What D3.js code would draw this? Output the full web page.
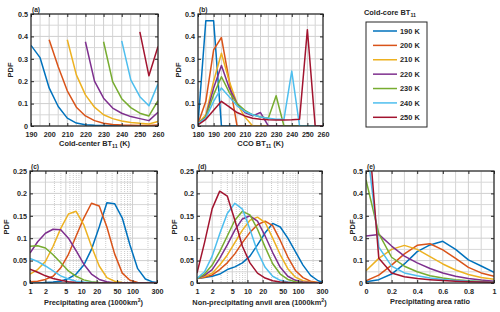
<!DOCTYPE html>
<html lang="en">
<head>
<meta charset="UTF-8">
<title>Cold-core PDFs</title>
<script src="https://d3js.org/d3.v7.min.js"></script>
<style>
  body { margin: 0; background: #fff; }
  svg { display: block; font-family: "Liberation Sans", Arial, sans-serif; font-weight: bold; }
  .tick text { font-size: 7.2px; font-weight: bold; fill: #262626; }
  .tick line { stroke: #262626; }
  .domain { display: none; }
  .lbl { font-size: 7.4px; fill: #262626; }
</style>
</head>
<body>
<svg width="500" height="312"></svg>
<script>
// legend / series
const seriesNames = ["190 K", "200 K", "210 K", "220 K", "230 K", "240 K", "250 K"];
const colors = ["#0072BD", "#D95319", "#EDB120", "#7E2F8E", "#77AC30", "#4DBEEE", "#A2142F"];

// (a) cold-center BT11 (K)
const btA = [190, 195, 200, 205, 210, 215, 220, 225, 230, 235, 240, 245, 250, 255, 260];
const pdfA = [
  [0.36, 0.305, 0.17, 0.087, 0.035, 0.013, 0.006, 0.003, 0.002, 0.001, 0.001, 0.0005, 0, 0, 0],
  [null, null, 0.385, 0.265, 0.157, 0.084, 0.045, 0.024, 0.012, 0.007, 0.004, 0.003, 0.002, 0.002, 0.004],
  [null, null, null, null, 0.385, 0.228, 0.139, 0.084, 0.05, 0.033, 0.022, 0.016, 0.012, 0.009, 0.02],
  [null, null, null, null, null, null, 0.376, 0.2, 0.124, 0.08, 0.057, 0.042, 0.033, 0.024, 0.061],
  [null, null, null, null, null, null, null, null, 0.376, 0.198, 0.122, 0.082, 0.057, 0.045, 0.113],
  [null, null, null, null, null, null, null, null, null, null, 0.38, 0.206, 0.131, 0.09, 0.188],
  [null, null, null, null, null, null, null, null, null, null, null, null, 0.42, 0.224, 0.355]
];

// (b) CCO BT11 (K)
const btB = [180, 185, 190, 195, 200, 205, 210, 215, 220, 225, 230, 235, 240, 245, 250, 255, 260];
const pdfB = [
  [0.01, 0.47, 0.47, 0, 0, 0, 0, 0, 0, 0, 0, 0, 0, 0, 0, 0, 0],
  [0.01, 0.11, 0.34, 0.395, 0.2, 0, 0, 0, 0, 0, 0, 0, 0, 0, 0, 0, 0],
  [0.01, 0.05, 0.2, 0.325, 0.2, 0.1, 0.04, 0, 0, 0, 0, 0, 0, 0, 0, 0, 0],
  [0.01, 0.04, 0.17, 0.27, 0.17, 0.1, 0.06, 0.045, 0.06, 0, 0, 0, 0, 0, 0, 0, 0],
  [0.01, 0.04, 0.14, 0.22, 0.15, 0.1, 0.07, 0.05, 0.04, 0.035, 0.135, 0, 0, 0, 0, 0, 0],
  [0.01, 0.035, 0.11, 0.17, 0.13, 0.09, 0.065, 0.05, 0.04, 0.035, 0.03, 0.03, 0.245, 0, 0, 0, 0],
  [0.005, 0.03, 0.07, 0.11, 0.085, 0.06, 0.045, 0.035, 0.03, 0.028, 0.027, 0.027, 0.028, 0.03, 0.43, 0, 0]
];

// (c), (d) area bins (1000 km2)
const areaBins = [1, 1.41, 2, 2.82, 3.98, 5.62, 7.94, 11.2, 15.8, 22.4, 31.6, 44.7, 63.1, 89.1, 126, 178, 251, 355];
const pdfC = [
  [0, 0, 0.001, 0.002, 0.004, 0.01, 0.02, 0.04, 0.075, 0.125, 0.179, 0.177, 0.145, 0.085, 0.032, 0.009, 0.002, 0],
  [0.003, 0.004, 0.008, 0.015, 0.034, 0.064, 0.105, 0.145, 0.178, 0.172, 0.125, 0.065, 0.022, 0.006, 0.001, 0, 0, 0],
  [0.02, 0.03, 0.048, 0.082, 0.122, 0.154, 0.16, 0.13, 0.082, 0.038, 0.012, 0.004, 0.001, 0, 0, 0, 0, 0],
  [0.067, 0.092, 0.111, 0.12, 0.119, 0.1, 0.072, 0.042, 0.02, 0.008, 0.003, 0, 0, 0, 0, 0, 0, 0],
  [0.082, 0.083, 0.078, 0.063, 0.045, 0.027, 0.015, 0.007, 0.003, 0.001, 0, 0, 0, 0, 0, 0, 0, 0],
  [0.055, 0.048, 0.038, 0.027, 0.016, 0.009, 0.004, 0.002, 0.001, 0, 0, 0, 0, 0, 0, 0, 0, 0],
  [0.031, 0.024, 0.016, 0.01, 0.006, 0.003, 0.001, 0, 0, 0, 0, 0, 0, 0, 0, 0, 0, 0]
];
const pdfD = [
  [0.01, 0.012, 0.015, 0.02, 0.03, 0.036, 0.045, 0.06, 0.085, 0.112, 0.133, 0.125, 0.1, 0.07, 0.04, 0.017, 0.005, 0],
  [0.01, 0.013, 0.018, 0.03, 0.045, 0.065, 0.09, 0.113, 0.13, 0.138, 0.128, 0.095, 0.058, 0.028, 0.012, 0.004, 0.001, 0],
  [0.01, 0.015, 0.022, 0.04, 0.062, 0.09, 0.118, 0.14, 0.147, 0.135, 0.1, 0.063, 0.032, 0.013, 0.005, 0.002, 0, 0],
  [0.01, 0.017, 0.03, 0.055, 0.085, 0.118, 0.143, 0.15, 0.138, 0.105, 0.068, 0.035, 0.015, 0.006, 0.002, 0.001, 0, 0],
  [0.01, 0.02, 0.04, 0.07, 0.105, 0.14, 0.16, 0.152, 0.12, 0.08, 0.043, 0.02, 0.008, 0.003, 0.001, 0, 0, 0],
  [0.01, 0.025, 0.06, 0.11, 0.155, 0.178, 0.165, 0.12, 0.07, 0.035, 0.015, 0.006, 0.002, 0, 0, 0, 0, 0],
  [0.022, 0.09, 0.166, 0.205, 0.194, 0.14, 0.082, 0.045, 0.022, 0.011, 0.005, 0.002, 0.001, 0, 0, 0, 0, 0]
];

// (e) precipitating area ratio
const ratioBins = [0, 0.1, 0.2, 0.3, 0.4, 0.5, 0.6, 0.7, 0.8, 0.9, 1.0];
const pdfE = [
  [0.005, 0.015, 0.04, 0.085, 0.14, 0.17, 0.186, 0.15, 0.103, 0.076, 0.048],
  [0.01, 0.035, 0.08, 0.13, 0.168, 0.175, 0.148, 0.11, 0.07, 0.045, 0.03],
  [0.055, 0.11, 0.15, 0.168, 0.15, 0.118, 0.085, 0.058, 0.038, 0.025, 0.017],
  [0.21, 0.217, 0.165, 0.12, 0.09, 0.065, 0.045, 0.03, 0.02, 0.013, 0.008],
  [0.46, 0.22, 0.115, 0.075, 0.05, 0.032, 0.022, 0.015, 0.01, 0.007, 0.005],
  [0.646, 0.16, 0.075, 0.045, 0.032, 0.022, 0.016, 0.011, 0.008, 0.006, 0.004],
  [0.82, 0.11, 0.045, 0.028, 0.02, 0.015, 0.011, 0.008, 0.006, 0.004, 0.003]
];

const logTicks = [1, 2, 5, 10, 20, 50, 100, 300];
const logMinor = [3, 4, 6, 7, 8, 9, 30, 40, 60, 70, 80, 90, 200];

const svg = d3.select("svg");
const fmt = d3.format("~g");

function panel(cfg) {
  const x = cfg.x.range([cfg.left, cfg.right]);
  const y = d3.scaleLinear().domain([0, cfg.yMax]).range([cfg.bottom, cfg.top]);
  const g = svg.append("g");
  const w = cfg.right - cfg.left, h = cfg.bottom - cfg.top;

  // grid
  const grid = g.append("g");
  grid.selectAll(".gxm").data(cfg.xMinor || []).join("line")
    .attr("x1", d => x(d)).attr("x2", d => x(d)).attr("y1", cfg.top).attr("y2", cfg.bottom)
    .attr("stroke", cfg.log ? "#aaa" : "#d4d4d4").attr("stroke-width", cfg.log ? 0.6 : 1)
    .attr("stroke-dasharray", cfg.log ? "1,1" : null);
  grid.selectAll(".gym").data(cfg.yMinor).join("line")
    .attr("x1", cfg.left).attr("x2", cfg.right).attr("y1", d => y(d)).attr("y2", d => y(d))
    .attr("stroke", "#d8d8d8").attr("stroke-width", 1);
  grid.selectAll(".gx").data(cfg.xTicks).join("line")
    .attr("x1", d => x(d)).attr("x2", d => x(d)).attr("y1", cfg.top).attr("y2", cfg.bottom)
    .attr("stroke", "#cfcfcf").attr("stroke-width", 1);
  grid.selectAll(".gy").data(cfg.yTicks).join("line")
    .attr("x1", cfg.left).attr("x2", cfg.right).attr("y1", d => y(d)).attr("y2", d => y(d))
    .attr("stroke", "#cfcfcf").attr("stroke-width", 1);

  // series
  const clipId = "clip-" + cfg.id;
  g.append("clipPath").attr("id", clipId).append("rect")
    .attr("x", cfg.left).attr("y", cfg.top).attr("width", w).attr("height", h);
  const line = d3.line()
    .defined(d => d[1] !== null)
    .x(d => x(d[0])).y(d => y(d[1]));
  g.append("g").attr("clip-path", `url(#${clipId})`)
    .selectAll("path").data(cfg.series).join("path")
    .attr("d", s => line(cfg.bins.map((b, i) => [b, s[i]])))
    .attr("fill", "none")
    .attr("stroke", (s, i) => colors[i])
    .attr("stroke-width", 1.5)
    .attr("stroke-linejoin", "round");

  // axes with inward ticks
  g.append("g").attr("transform", `translate(0,${cfg.bottom})`)
    .call(d3.axisBottom(x).tickValues(cfg.xTicks).tickFormat(fmt).tickSizeInner(-3).tickSizeOuter(0).tickPadding(6.2));
  g.append("g").attr("transform", `translate(0,${cfg.top})`)
    .call(d3.axisTop(x).tickValues(cfg.xTicks).tickFormat("").tickSizeInner(-3).tickSizeOuter(0));
  g.append("g").attr("transform", `translate(${cfg.left},0)`)
    .call(d3.axisLeft(y).tickValues(cfg.yTicks).tickFormat(fmt).tickSizeInner(-3).tickSizeOuter(0).tickPadding(3));
  g.append("g").attr("transform", `translate(${cfg.right},0)`)
    .call(d3.axisRight(y).tickValues(cfg.yTicks).tickFormat("").tickSizeInner(-3).tickSizeOuter(0));

  g.append("rect").attr("x", cfg.left).attr("y", cfg.top).attr("width", w).attr("height", h)
    .attr("fill", "none").attr("stroke", "#262626").attr("stroke-width", 1.2);

  // labels
  g.append("text").attr("class", "lbl").attr("x", cfg.left + 1).attr("y", cfg.top - 2)
    .style("font-size", "6.6px").text(cfg.tag);
  g.append("text").attr("class", "lbl")
    .attr("transform", `translate(${cfg.left - cfg.yLabelOff},${(cfg.top + cfg.bottom) / 2}) rotate(-90)`)
    .attr("text-anchor", "middle").text("PDF");
  const xl = g.append("text").attr("class", "lbl")
    .attr("x", (cfg.left + cfg.right) / 2).attr("y", cfg.bottom + cfg.xLabelOff).attr("text-anchor", "middle");
  cfg.xLabel.forEach(p => {
    const t = xl.append("tspan").text(p.t);
    if (p.sub) t.attr("dy", 2.2).style("font-size", "5.3px");
    if (p.sup) t.attr("dy", -3).style("font-size", "5.3px");
    if (p.back) t.attr("dy", p.back);
  });
}

const topY = 14, botY = 126, top2 = 171, bot2 = 283;

panel({
  id: "a", tag: "(a)", left: 31, right: 158, top: topY, bottom: botY, yLabelOff: 18, xLabelOff: 19.8,
  x: d3.scaleLinear().domain([190, 260]), bins: btA, series: pdfA,
  xTicks: d3.range(190, 261, 10), xMinor: d3.range(195, 260, 10),
  yMax: 0.5, yTicks: d3.range(0, 0.51, 0.1), yMinor: d3.range(0.05, 0.5, 0.1),
  xLabel: [{t: "Cold-center BT"}, {t: "11", sub: true}, {t: " (K)", back: -2.2}]
});
panel({
  id: "b", tag: "(b)", left: 198, right: 323, top: topY, bottom: botY, yLabelOff: 17, xLabelOff: 19.8,
  x: d3.scaleLinear().domain([180, 260]), bins: btB, series: pdfB,
  xTicks: d3.range(180, 261, 10), xMinor: d3.range(185, 260, 10),
  yMax: 0.5, yTicks: d3.range(0, 0.51, 0.1), yMinor: d3.range(0.05, 0.5, 0.1),
  xLabel: [{t: "CCO BT"}, {t: "11", sub: true}, {t: " (K)", back: -2.2}]
});
panel({
  id: "c", tag: "(c)", left: 30, right: 157, top: top2, bottom: bot2, log: true, yLabelOff: 21, xLabelOff: 22,
  x: d3.scaleLog().domain([1, 300]), bins: areaBins, series: pdfC,
  xTicks: logTicks, xMinor: logMinor,
  yMax: 0.25, yTicks: d3.range(0, 0.251, 0.05), yMinor: d3.range(0.025, 0.25, 0.05),
  xLabel: [{t: "Precipitating area (1000km"}, {t: "2", sup: true}, {t: ")", back: 3}]
});
panel({
  id: "d", tag: "(d)", left: 197, right: 322, top: top2, bottom: bot2, log: true, yLabelOff: 20, xLabelOff: 22,
  x: d3.scaleLog().domain([1, 300]), bins: areaBins, series: pdfD,
  xTicks: logTicks, xMinor: logMinor,
  yMax: 0.25, yTicks: d3.range(0, 0.251, 0.05), yMinor: d3.range(0.025, 0.25, 0.05),
  xLabel: [{t: "Non-precipitating anvil area (1000km"}, {t: "2", sup: true}, {t: ")", back: 3}]
});
panel({
  id: "e", tag: "(e)", left: 366, right: 494, top: top2, bottom: bot2, yLabelOff: 11, xLabelOff: 20.5,
  x: d3.scaleLinear().domain([0, 1]), bins: ratioBins, series: pdfE,
  xTicks: d3.range(0, 1.01, 0.2).map(d => +d.toFixed(1)), xMinor: d3.range(0.1, 1, 0.2),
  yMax: 0.5, yTicks: d3.range(0, 0.51, 0.1).map(d => +d.toFixed(1)), yMinor: d3.range(0.05, 0.5, 0.1),
  xLabel: [{t: "Precipitating area ratio"}]
});

// legend
const lg = svg.append("g");
const lt = lg.append("text").attr("class", "lbl").attr("x", 390).attr("y", 15).attr("text-anchor", "middle");
lt.append("tspan").text("Cold-core BT");
lt.append("tspan").text("11").attr("dy", 2.2).style("font-size", "5.3px");
lg.append("rect").attr("x", 366).attr("y", 22).attr("width", 61).attr("height", 105)
  .attr("fill", "#fff").attr("stroke", "#262626").attr("stroke-width", 1);
const ly = d3.scalePoint().domain(seriesNames).range([31, 117.3]);
const items = lg.selectAll(".item").data(seriesNames).join("g")
  .attr("transform", d => `translate(0,${ly(d)})`);
items.append("line").attr("x1", 373).attr("x2", 397).attr("y1", 0).attr("y2", 0)
  .attr("stroke", (d, i) => colors[i]).attr("stroke-width", 1.5);
items.append("text").attr("class", "lbl").attr("x", 400).attr("y", 2.6).text(d => d);
</script>
</body>
</html>
